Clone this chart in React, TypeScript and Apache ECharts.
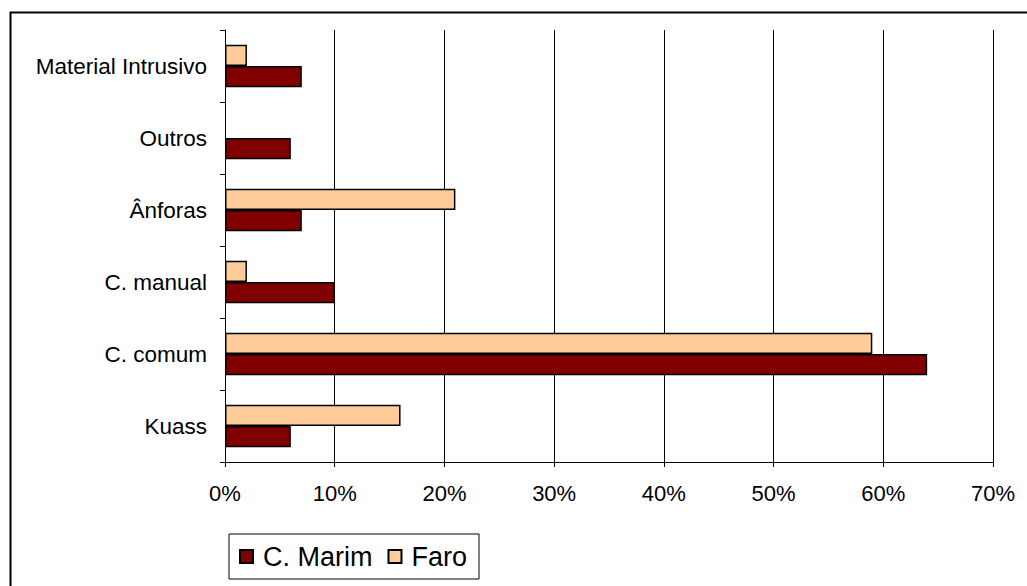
import React, { useEffect, useRef } from "react";
import * as echarts from "echarts";

const categories = ["Kuass", "C. comum", "C. manual", "Ânforas", "Outros", "Material Intrusivo"];
const marimValues = [6, 64, 10, 7, 6, 7];
const faroValues = [16, 59, 2, 21, 0, 2];
const seriesNames = ["C. Marim", "Faro"];
const xTicks = [0, 10, 20, 30, 40, 50, 60, 70];

const FONT = "'Liberation Sans', Arial, sans-serif";

const noZero = (arr: number[]) => arr.map((v) => (v === 0 ? "-" : v));

export default function App() {
  const ref = useRef<HTMLDivElement>(null);
  useEffect(() => {
    if (!ref.current) return;
    const chart = echarts.init(ref.current, null, { renderer: "svg" });
    chart.setOption({
      animation: false,
      backgroundColor: "#fff",
      textStyle: { fontFamily: FONT },
      grid: { left: 225, top: 30, right: 34, bottom: 124, containLabel: false },
      xAxis: {
        type: "value",
        min: xTicks[0],
        max: xTicks[xTicks.length - 1],
        interval: 10,
        axisLine: { show: true, lineStyle: { color: "#000", width: 1 } },
        axisTick: { show: true, length: 5, lineStyle: { color: "#000" } },
        axisLabel: {
          formatter: (v: number) => v + "%",
          color: "#000",
          fontSize: 22,
          fontFamily: FONT,
          margin: 20,
        },
        splitLine: { show: true, lineStyle: { color: "#000", width: 1 } },
      },
      yAxis: {
        type: "category",
        data: categories,
        axisLine: { show: true, lineStyle: { color: "#000", width: 1 } },
        axisTick: { show: true, length: 5, inside: false, lineStyle: { color: "#000" } },
        axisLabel: { color: "#000", fontSize: 22.5, fontFamily: FONT, margin: 18 },
        splitLine: { show: false },
      },
      legend: {
        left: 229,
        top: 534,
        orient: "horizontal",
        data: seriesNames,
        itemWidth: 13,
        itemHeight: 13,
        itemGap: 15,
        padding: [9, 12, 9, 10],
        borderColor: "#000",
        borderWidth: 1,
        textStyle: { color: "#000", fontSize: 27, fontFamily: FONT, padding: [0, 0, 0, 5] },
        icon: "rect",
      },
      series: [
        {
          name: seriesNames[1],
          type: "bar",
          data: noZero(faroValues),
          barGap: "0%",
          barCategoryGap: "41%",
          itemStyle: { color: "#FFCC99", borderColor: "#000", borderWidth: 1.5 },
        },
        {
          name: seriesNames[0],
          type: "bar",
          data: noZero(marimValues),
          barGap: "0%",
          barCategoryGap: "41%",
          itemStyle: { color: "#800000", borderColor: "#000", borderWidth: 1.5 },
        },
      ],
      graphic: [
        {
          type: "rect",
          left: 8,
          top: 10,
          shape: { width: 1040, height: 600 },
          style: { fill: "none", stroke: "#000", lineWidth: 2 },
          silent: true,
        },
      ],
    });
    return () => chart.dispose();
  }, []);
  return (
    <div
      ref={ref}
      style={{ position: "fixed", left: 0, top: 0, width: 1027, height: 586, background: "#fff" }}
    />
  );
}
